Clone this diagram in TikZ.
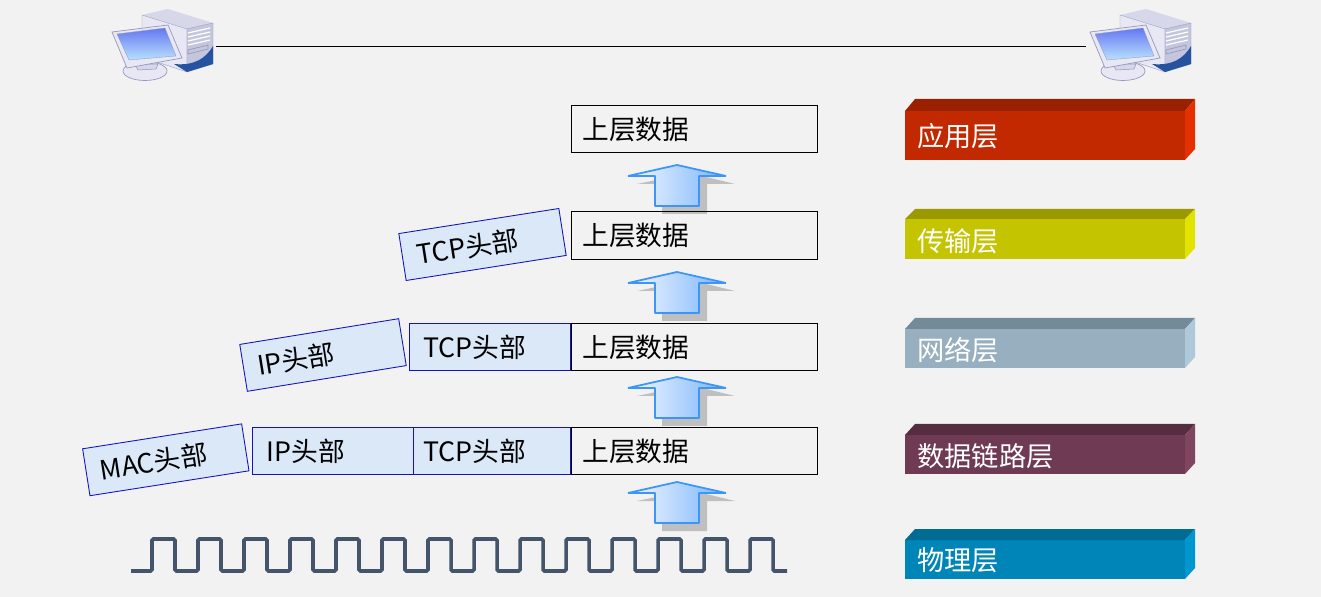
\documentclass[tikz,border=0pt]{standalone}
\usepackage{fontspec}
\setmainfont{Noto Sans CJK SC}
\usepackage{xcolor}
\usetikzlibrary{positioning, calc}
\definecolor{pagegray}{RGB}{242, 242, 242}
\definecolor{hdrblue}{RGB}{20, 20, 190}
\definecolor{hdrfill}{RGB}{218, 232, 248}
\definecolor{arrowblue}{RGB}{60, 150, 250}
\definecolor{wavegray}{RGB}{68, 84, 106}
\definecolor{redfront}{RGB}{195, 41, 0}
\definecolor{redtop}{RGB}{153, 33, 0}
\definecolor{redside}{RGB}{229, 49, 0}
\definecolor{yelfront}{RGB}{196, 196, 0}
\definecolor{yeltop}{RGB}{154, 154, 0}
\definecolor{yelside}{RGB}{227, 227, 0}
\definecolor{grayfront}{RGB}{151, 175, 191}
\definecolor{graytop}{RGB}{115, 138, 153}
\definecolor{grayside}{RGB}{175, 201, 218}
\definecolor{plumfront}{RGB}{111, 58, 84}
\definecolor{plumtop}{RGB}{86, 44, 65}
\definecolor{plumside}{RGB}{128, 70, 95}
\definecolor{bluefront}{RGB}{0, 133, 184}
\definecolor{bluetop}{RGB}{0, 107, 147}
\definecolor{blueside}{RGB}{0, 151, 209}
\definecolor{pcface}{RGB}{232, 232, 244}
\definecolor{pctop}{RGB}{214, 216, 234}
\definecolor{pcside}{RGB}{196, 198, 222}
\definecolor{pcedge}{RGB}{150, 152, 190}
\definecolor{pcnavy}{RGB}{38, 82, 160}
\definecolor{pcscreen}{RGB}{100, 120, 240}
\definecolor{pcglow}{RGB}{185, 225, 255}
\tikzset{
    label font/.style={font=\fontsize{15.2}{18}\selectfont},
    databox/.style={draw=black, line width=0.5pt, anchor=north west, minimum width=4.92cm, minimum height=0.95cm,
        text width=4.48cm, inner xsep=0.22cm, inner ysep=0pt, align=left, label font},
    hdrbox/.style={draw=hdrblue, fill=hdrfill, line width=0.5pt, minimum height=0.95cm, text width=2.66cm,
        inner xsep=0.28cm, inner ysep=0pt, align=left, label font},
    layertext/.style={white, anchor=west, inner sep=0pt, font=\fontsize{15.5}{18}\selectfont},
    pics/computer/.style={code={
        % Tower
        \fill[pctop] (52,15) -- (78,9) -- (123,23) -- (97,29) -- cycle;
        \fill[pcface, draw=pcedge, line width=0.2pt] (52,15) -- (97,29) -- (97,72) -- (52,57) -- cycle;
        \fill[pcside, draw=pcedge, line width=0.2pt] (97,29) -- (123,23) -- (123,64) -- (97,72) -- cycle;
        \fill[pcnavy] (123,46) -- (123,64) -- (97,72) -- (84,64) .. controls (105,66) and (116,58) .. (123,46) -- cycle;
        \foreach \slit in {33,37,41,45} \draw[white, line width=0.7pt] (98,\slit) -- (120,\slit-5);
        \draw[pcedge, line width=0.4pt] (98,50) -- (118,45) -- (118,49) -- (98,54) -- cycle;
        % Foot and monitor
        \fill[pcface, draw=pcedge, line width=0.4pt] (55,71) ellipse (22 and 9.5);
        \fill[pctop, draw=pcedge, line width=0.3pt] (45,64) -- (68,64) -- (66,69) -- (48,70) -- cycle;
        \fill[pcface, draw=pcedge, line width=0.4pt] (22,32) -- (78,25) -- (92,58) -- (37,68) -- cycle;
        \shade[top color=pcscreen, bottom color=pcglow, draw=pcedge, line width=0.2pt] (27,34) -- (75,28) -- (86,56) -- (39,60) -- cycle;
    }},
}

\begin{document}
\begin{tikzpicture}[x=0.02cm, y=-0.02cm]
    % Page background
    \fill[pagegray] (0,0) rectangle (1321,597);
    \useasboundingbox (0,0) rectangle (1321,597);

    % ==== Computers and link ====
    \pic at (90,0) {computer};
    \pic at (1068,0) {computer};
    \coordinate (linkleft) at (216,46);
    \coordinate (linkright) at (1086,46);
    \draw[black, line width=0.5pt] (linkleft) -- (linkright);

    % ==== Arrows between rows (drawn before the boxes) ====
    \foreach \ytip in {165,272,377,482} {
        \fill[black!25] ($(637,19)+(0,\ytip)$) -- ($(662,19)+(0,\ytip)$) -- ($(662,49)+(0,\ytip)$) -- ($(707,49)+(0,\ytip)$)
            -- ($(707,19)+(0,\ytip)$) -- ($(735,19)+(0,\ytip)$) -- ($(690,8)+(0,\ytip)$) -- cycle;
        \draw[arrowblue, line width=1pt, line join=bevel, left color=blue!3, right color=arrowblue!70]
            ($(628,11)+(0,\ytip)$) -- ($(655,11)+(0,\ytip)$) -- ($(655,41)+(0,\ytip)$) -- ($(699,41)+(0,\ytip)$)
            -- ($(699,11)+(0,\ytip)$) -- ($(726,11)+(0,\ytip)$) -- ($(677,0)+(0,\ytip)$) -- cycle;
    }

    % ==== Upper data boxes ====
    \node[databox] (appdata) at (571,105) {上层数据};
    \node[databox] (tcpdata) at (571,211.5) {上层数据};
    \node[databox] (ipdata) at (571,323) {上层数据};
    \node[databox] (macdata) at (571,427) {上层数据};

    % ==== Header boxes in place ====
    \node[hdrbox, minimum width=3.22cm, anchor=north east] (iptcp) at (571,323) {TCP头部};
    \node[hdrbox, text width=2.74cm, inner xsep=0.2cm, minimum width=3.14cm, anchor=north east] (mactcp) at (571,427) {TCP头部};
    \node[hdrbox, minimum width=3.22cm, anchor=north east] (macip) at (414,427) {IP头部};

    % ==== Headers being added ====
    \node[hdrbox, minimum width=3.24cm, rotate=8.9] (newtcp) at (482.5,244.5) {TCP头部};
    \node[hdrbox, minimum width=3.22cm, rotate=9.2] (newip) at (323,355) {IP头部};
    \node[hdrbox, minimum width=3.22cm, rotate=8.9] (newmac) at (165.8,459.8) {MAC头部};

    % ==== Square wave ====
    \draw[wavegray, line width=2pt, rounded corners=0.8pt] (131,571)
        \foreach \xrise in {152,198,...,750} { -- (\xrise,571) -- (\xrise,539) -- (\xrise+23,539) -- (\xrise+23,571) } -- (787,571);

    % ==== Layer bars ====
    \foreach \ytop/\yfront/\ybot/\layername/\cfront/\ctop/\cside/\ymid in {
        99/111/160/应用层/redfront/redtop/redside/136,
        209/219/259/传输层/yelfront/yeltop/yelside/241,
        318/329/368/网络层/grayfront/graytop/grayside/350,
        424/435/474/数据链路层/plumfront/plumtop/plumside/456,
        529/540/579/物理层/bluefront/bluetop/blueside/560} {
        \fill[\cfront] (905,\yfront) rectangle (1185,\ybot);
        \fill[\ctop] (905,\yfront) -- (915,\ytop) -- (1195,\ytop) -- (1185,\yfront) -- cycle;
        \fill[\cside] (1185,\yfront) -- (1195,\ytop) -- (1195,\ybot-11) -- (1185,\ybot) -- cycle;
        \node[layertext] at (917,\ymid) {\layername};
    }
\end{tikzpicture}
\end{document}
